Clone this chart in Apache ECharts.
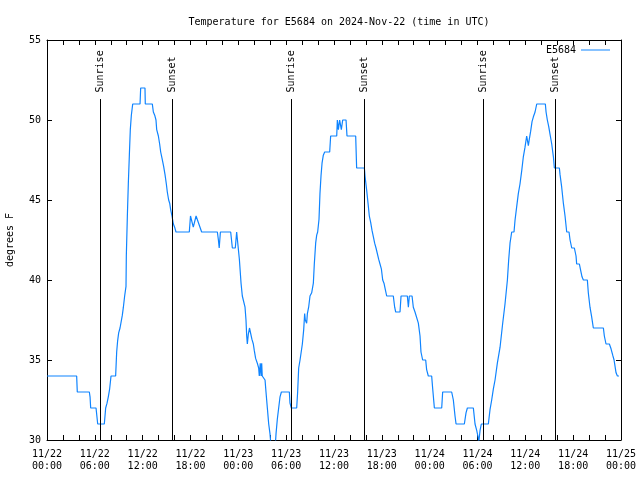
<!DOCTYPE html>
<html>
<head>
<meta charset="utf-8">
<script src="https://cdn.jsdelivr.net/npm/echarts@6/dist/echarts.min.js"></script>
<style>html,body{margin:0;padding:0;background:#fff}#c{width:640px;height:480px}</style>
</head>
<body>
<div id="c"></div>
<script>
// Hours since 2024-11-22 00:00 UTC
const hours = [
  0, 3.72, 3.8, 5.31, 5.4, 5.48, 6.15, 6.36, 7.19, 7.36, 7.53, 7.69, 7.86, 8.03, 8.61,
  8.74, 8.86, 8.99, 9.16, 9.32, 9.45, 9.58, 9.74, 9.91, 9.95, 10.08, 10.2, 10.33, 10.45,
  10.58, 10.75, 11.67, 11.75, 12.29, 12.33, 13.21, 13.34, 13.51, 13.67, 13.76, 13.97,
  14.13, 14.26, 14.43, 14.63, 14.8, 14.97, 15.09, 15.26, 15.39, 15.51, 15.68, 15.85,
  16.01, 16.18, 17.85, 18.0, 18.2, 18.35, 18.55, 18.7, 18.9, 19.05, 19.4, 21.37, 21.5,
  21.6, 21.75, 23.04, 23.25, 23.62, 23.79, 24.0,
  24.13, 24.34, 24.5, 24.71, 24.84, 24.96, 25.05, 25.13, 25.25, 25.4, 25.55, 25.7, 25.88,
  26.0, 26.17, 26.38, 26.55, 26.63, 26.75, 26.85, 26.93, 27.0, 27.14, 27.35, 27.47,
  27.64, 27.81, 27.97, 28.1, 28.2, 28.55, 28.73, 28.89, 29.06, 29.23, 29.4, 30.4, 30.48,
  30.65, 31.32, 31.44, 31.57, 31.74, 31.86, 32.03, 32.2, 32.32, 32.4, 32.57, 32.66, 32.82,
  32.99, 33.2, 33.41, 33.53, 33.7, 33.83, 33.95, 34.12, 34.24, 34.37, 34.5, 34.66, 34.83,
  35.46, 35.58, 36.34, 36.42, 36.55, 36.71, 36.92, 37.09, 37.51, 37.63, 38.72, 38.84,
  39.81, 39.89, 40.1, 40.27, 40.43, 40.6, 40.77, 40.94, 41.1, 41.27, 41.44, 41.6, 41.77,
  41.94, 42.11, 42.27, 42.44, 42.61, 43.44, 43.61, 43.74, 44.28, 44.41, 45.2, 45.33,
  45.45, 45.79, 45.95, 46.16, 46.29, 46.58, 46.79, 46.91, 47.12, 47.5, 47.62, 47.83,
  48.25, 48.38, 48.59, 49.51, 49.63, 50.76, 50.97, 51.18, 51.31, 52.35, 52.56, 52.73,
  53.48, 53.69, 53.9, 54.11, 54.15, 54.32, 54.48, 55.36, 55.57, 55.78, 55.99, 56.2, 56.49,
  56.83, 57.16, 57.45, 57.75, 57.91, 58.08, 58.29, 58.58, 58.71, 58.92, 59.12, 59.33,
  59.54, 59.75, 59.96, 60.17, 60.38, 60.5, 60.67, 60.84, 61.01, 61.22, 61.43, 62.51,
  62.6, 62.76, 62.93, 63.1, 63.31, 63.52, 63.64, 64.27, 64.35, 64.56, 64.77, 64.98,
  65.19, 65.48, 65.61, 65.82, 66.15, 66.36, 66.44, 66.78, 66.94, 67.11, 67.28, 67.78,
  67.9, 68.11, 68.32, 68.53, 69.79, 69.91, 70.12, 70.54, 70.75, 70.96, 71.13, 71.38,
  71.55, 71.75
];
// Temperature, degrees F
const temps = [
  34, 34, 33, 33, 32.7, 32, 32, 31, 31, 32, 32.3, 32.7, 33.2, 34, 34,
  35.5, 36.2, 36.7, 37, 37, 37.8, 38.3, 39, 39.6, 41.5, 44, 46, 47.8, 49.4,
  50.3, 51, 51, 52, 52, 51, 51, 50.5, 50.3, 50, 49.4, 49,
  48.5, 48, 47.6, 47.1, 46.6, 46, 45.5, 45, 44.8, 44.4, 44, 43.5,
  43.3, 43, 43, 44, 44, 43.3, 43.3, 44, 44, 43.5, 43, 43, 42.5,
  42, 43, 43, 42, 42, 43, 43,
  41.3, 39.8, 39, 39, 38.3, 37.5, 36.5, 36, 36.6, 37, 36.9, 36.3, 36,
  35.6, 35.1, 34.8, 34.5, 34, 34.8, 34, 34.8, 34, 34, 33.75, 33,
  32, 31, 30.4, 29.6, 29, 29, 30.4, 31.3, 32, 32.7, 33, 33, 32.3,
  32, 32, 33, 34.5, 35, 35, 36, 36.9, 37.9, 37.5, 37.3, 37.9, 38.3,
  39, 39.2, 39.8, 41, 42.3, 42.8, 43, 43.8, 45.4, 46.5, 47.3, 47.8, 48,
  48, 49, 49, 50, 49.4, 50, 49.4, 50, 50, 49, 49, 47,
  47, 46.5, 45.6, 44.8, 44, 43.6, 43.1, 42.7, 42.3, 42, 41.9, 41.3, 41,
  40.7, 40, 39.8, 39.4, 39, 39, 38.3, 38, 38, 39, 39, 38.3,
  39, 39, 38.3, 38, 37.9, 37.3, 36.5, 35.5, 35, 35, 34.4, 34,
  34, 33.2, 32, 32, 33, 33, 32.5, 31.5, 31, 31, 31.7, 32,
  32, 31, 30.6, 30.1, 29.8, 30.6, 31, 31, 31.9, 32.5, 33.2, 33.75, 34.8,
  35.8, 37.3, 38.5, 40, 41.25, 42.3, 43, 43, 43.75, 44.6, 45.4, 46,
  46.8, 47.7, 48.3, 49, 48.4, 48.8, 49.3, 49.9, 50.2, 50.5, 51, 51,
  50.5, 50, 49.6, 49.1, 48.5, 47.7, 47, 47, 46.6, 45.8, 44.8, 44,
  43, 43, 42.5, 42, 42, 41.5, 41, 41, 40.6, 40.2, 40, 40,
  39.2, 38.3, 37.7, 37, 37, 36.5, 36, 36, 35.7, 35.3, 35, 34.2,
  34, 34
];
const sunriseHours = [6.69, 30.64, 54.73];
const sunsetHours = [15.72, 39.80, 63.76];
const xTickLabels = [
  '11/22\n00:00', '11/22\n06:00', '11/22\n12:00', '11/22\n18:00',
  '11/23\n00:00', '11/23\n06:00', '11/23\n12:00', '11/23\n18:00',
  '11/24\n00:00', '11/24\n06:00', '11/24\n12:00', '11/24\n18:00',
  '11/25\n00:00'
];
const yTickLabels = ['30', '35', '40', '45', '50', '55'];

const FONT = 'DejaVu Sans Mono';
const seriesData = hours.map((h, i) => [h, temps[i]]);
const sunEvents = [];
sunriseHours.forEach(h => sunEvents.push({ h: h, name: 'Sunrise' }));
sunsetHours.forEach(h => sunEvents.push({ h: h, name: 'Sunset' }));

const axisCommon = {
  axisLine: { show: true, onZero: false, lineStyle: { color: '#000', width: 1 } },
  splitLine: { show: false }
};
const tickStyle = { show: true, inside: true, length: 5, lineStyle: { color: '#000' } };
const minorStyle = { show: true, splitNumber: 3, length: 5, lineStyle: { color: '#000' } };

const chart = echarts.init(document.getElementById('c'), null, { renderer: 'canvas' });
chart.setOption({
  animation: false,
  backgroundColor: '#fff',
  title: {
    text: 'Temperature for E5684 on 2024-Nov-22 (time in UTC)',
    left: 334, top: 12, textAlign: 'center',
    textStyle: { fontFamily: FONT, fontSize: 10, fontWeight: 'normal', color: '#000' }
  },
  legend: {
    data: ['E5684'], right: 25, top: 40, align: 'right',
    itemWidth: 29, itemHeight: 8, icon: 'path://M0,4L29,4L29,5L0,5Z',
    textStyle: { fontFamily: FONT, fontSize: 10, color: '#000' }
  },
  grid: { left: 47, right: 19, top: 40, bottom: 40, containLabel: false, outerBoundsMode: 'none' },
  xAxis: [
    Object.assign({}, axisCommon, {
      type: 'value', position: 'bottom', min: 0, max: 72, interval: 6,
      axisTick: tickStyle, minorTick: minorStyle,
      axisLabel: {
        fontFamily: FONT, fontSize: 10, lineHeight: 12, color: '#000', margin: 8,
        formatter: v => xTickLabels[Math.round(v / 6)]
      }
    }),
    Object.assign({}, axisCommon, {
      type: 'value', position: 'top', min: 0, max: 72, interval: 6,
      axisTick: tickStyle, minorTick: minorStyle,
      axisLabel: { show: false }
    })
  ],
  yAxis: [
    Object.assign({}, axisCommon, {
      type: 'value', position: 'left', min: 30, max: 55, interval: 5,
      axisTick: tickStyle,
      axisLabel: {
        fontFamily: FONT, fontSize: 10, color: '#000', margin: 6,
        formatter: v => yTickLabels[Math.round((v - 30) / 5)]
      },
      name: 'degrees F', nameLocation: 'middle', nameRotate: 90, nameGap: 32,
      nameTextStyle: { fontFamily: FONT, fontSize: 10, color: '#000' }
    }),
    Object.assign({}, axisCommon, {
      type: 'value', position: 'right', min: 30, max: 55, interval: 5,
      axisTick: tickStyle,
      axisLabel: { show: false }
    })
  ],
  series: [{
    name: 'E5684', type: 'line', data: seriesData,
    xAxisIndex: 0, yAxisIndex: 0,
    symbol: 'none', showSymbol: false, clip: true,
    itemStyle: { color: '#0f84ff' },
    lineStyle: { color: '#0f84ff', width: 1.2 },
    markLine: {
      silent: true, symbol: ['none', 'none'], animation: false,
      lineStyle: { color: '#000', width: 1, type: 'solid' },
      label: { show: false },
      data: sunEvents.map(e => [{ coord: [e.h, 30] }, { coord: [e.h, 51.31] }])
    },
    markPoint: {
      silent: true, symbol: 'circle', symbolSize: 0, animation: false,
      label: {
        show: true, position: 'inside', rotate: 90, align: 'left', verticalAlign: 'middle',
        formatter: '{b}', fontFamily: FONT, fontSize: 10, color: '#000'
      },
      data: sunEvents.map(e => ({ name: e.name, coord: [e.h, 51.72] }))
    }
  }]
});
</script>
</body>
</html>
